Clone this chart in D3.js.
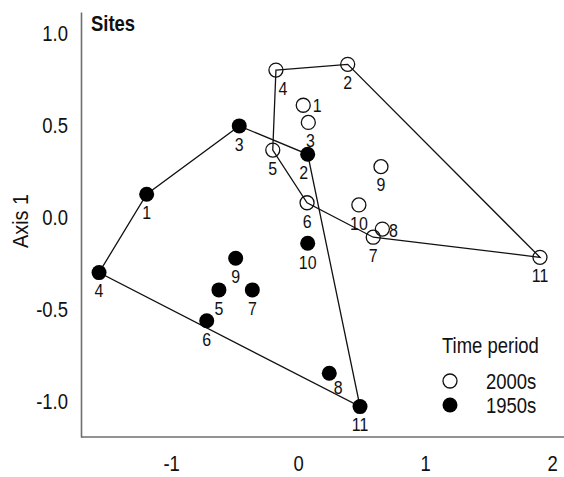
<!DOCTYPE html>
<html>
<head>
<meta charset="utf-8">
<script src="https://cdn.jsdelivr.net/npm/d3@7"></script>
<style>
  html, body { margin: 0; padding: 0; background: #fff; }
  svg { display: block; }
  text { font-family: "Liberation Sans", Arial, sans-serif; fill: #111; }
</style>
</head>
<body>
<div id="chart"></div>
<script>
// ---- data ----
const siteIds = ["1","2","3","4","5","6","7","8","9","10","11"];
const axis2_2000s = [0.04, 0.39, 0.08, -0.175, -0.20, 0.07, 0.591, 0.663, 0.652, 0.478, 1.904];
const axis1_2000s = [0.604, 0.826, 0.511, 0.795, 0.361, 0.075, -0.112, -0.068, 0.271, 0.063, -0.221];
const axis2_1950s = [-1.193, 0.075, -0.464, -1.568, -0.624, -0.72, -0.361, 0.245, -0.492, 0.075, 0.487];
const axis1_1950s = [0.121, 0.338, 0.492, -0.304, -0.398, -0.565, -0.398, -0.850, -0.226, -0.145, -1.031];
const hull2000s = ["4","2","11","7","6","5"];
const hull1950s = ["4","1","3","2","11"];
const periods = ["2000s", "1950s"];
const xTicks = [-1, 0, 1, 2];
const yTicks = [1.0, 0.5, 0.0, -0.5, -1.0];

// ---- label placement (layout, not data) ----
const labelNudge = {
  "2000s": { "1": [14, 0], "8": [11, 1], "4": [7, 18], "3": [2, 18] },
  "1950s": { "8": [9, 14], "2": [-4, 18], "10": [0, 19] }
};
const NARROW = 0.84;

const W = 564, H = 477;
const svg = d3.select("#chart").append("svg").attr("width", W).attr("height", H);

const x = d3.scaleLinear().domain([-1.71, 2.09]).range([81, 563.6]);
const y = d3.scaleLinear().domain([-1.196, 1.11]).range([437, 12]);

function build(period, xs, ys) {
  return siteIds.map((id, i) => ({ id, period, x: xs[i], y: ys[i] }));
}
const d2000 = build("2000s", axis2_2000s, axis1_2000s);
const d1950 = build("1950s", axis2_1950s, axis1_1950s);

// make text look condensed: move x/y into a transform and squeeze horizontally
function narrow(sel) {
  sel.each(function () {
    const t = d3.select(this);
    const tx = +t.attr("x") || 0, ty = +t.attr("y") || 0;
    const prev = t.attr("transform") || "";
    t.attr("x", 0).attr("y", 0)
     .attr("transform", `${prev} translate(${tx},${ty}) scale(${NARROW},1)`);
  });
}

const hyph = s => s.replace("\u2212", "-");
const xAxis = d3.axisBottom(x).tickValues(xTicks).tickFormat(d => hyph(d3.format("d")(d))).tickSize(0).tickPadding(18);
const yAxis = d3.axisLeft(y).tickValues(yTicks).tickFormat(d => hyph(d3.format(".1f")(d))).tickSize(0).tickPadding(13);

const gx = svg.append("g").attr("transform", "translate(0,437)").call(xAxis);
const gy = svg.append("g").attr("transform", "translate(81,0)").call(yAxis);
[gx, gy].forEach(g => {
  g.select(".domain").attr("stroke", "#6e6e6e").attr("stroke-width", 1.6);
  g.selectAll(".tick text").attr("font-size", 22).attr("fill", "#111")
    .attr("font-family", '"Liberation Sans", Arial, sans-serif');
});
gx.select(".domain").attr("d", `M81,0H564`);
gy.selectAll(".tick text").attr("dy", "0.36em");
gx.selectAll(".tick text").attr("dy", "0.71em");
narrow(gx.selectAll(".tick text"));
narrow(gy.selectAll(".tick text"));

// axis title
svg.append("text")
  .attr("text-anchor", "middle").attr("font-size", 22).text("Axis 1")
  .attr("transform", `translate(28,221) rotate(-90) scale(0.9,1)`);

// panel title
svg.append("text").attr("x", 91).attr("y", 31).attr("font-size", 22).attr("font-weight", "bold").text("Sites").call(narrow);

// hull polygons
function hullPath(data, order) {
  const byId = new Map(data.map(d => [d.id, d]));
  const pts = order.map(id => byId.get(id));
  return d3.line().x(d => x(d.x)).y(d => y(d.y))(pts) + "Z";
}
svg.append("path").attr("d", hullPath(d1950, hull1950s)).attr("fill", "none").attr("stroke", "#111").attr("stroke-width", 1.3);
svg.append("path").attr("d", hullPath(d2000, hull2000s)).attr("fill", "none").attr("stroke", "#111").attr("stroke-width", 1.3);

// points
svg.append("g").selectAll("circle").data(d2000).join("circle")
  .attr("cx", d => x(d.x)).attr("cy", d => y(d.y)).attr("r", 7)
  .attr("fill", "none").attr("stroke", "#111").attr("stroke-width", 1.3);
svg.append("g").selectAll("circle").data(d1950).join("circle")
  .attr("cx", d => x(d.x)).attr("cy", d => y(d.y)).attr("r", 7.5)
  .attr("fill", "#000");

// labels
function labels(data) {
  svg.append("g").selectAll("text").data(data).join("text")
    .attr("x", d => x(d.x) + ((labelNudge[d.period][d.id] || [0, 18])[0]))
    .attr("y", d => y(d.y) + ((labelNudge[d.period][d.id] || [0, 18])[1]))
    .attr("dy", "0.36em")
    .attr("text-anchor", "middle")
    .attr("font-size", 19)
    .text(d => d.id)
    .call(narrow);
}
labels(d2000);
labels(d1950);

// legend
const lg = svg.append("g");
lg.append("text").attr("x", 442).attr("y", 353).attr("font-size", 22).text("Time period").call(narrow);
periods.forEach((p, i) => {
  const cy = 381 + i * 24;
  if (p === "2000s") {
    lg.append("circle").attr("cx", 450).attr("cy", cy).attr("r", 7).attr("fill", "none").attr("stroke", "#111").attr("stroke-width", 1.3);
  } else {
    lg.append("circle").attr("cx", 450).attr("cy", cy).attr("r", 7.5).attr("fill", "#000");
  }
  lg.append("text").attr("x", 486).attr("y", cy).attr("dy", "0.36em").attr("font-size", 22).text(p).call(narrow);
});
</script>
</body>
</html>
